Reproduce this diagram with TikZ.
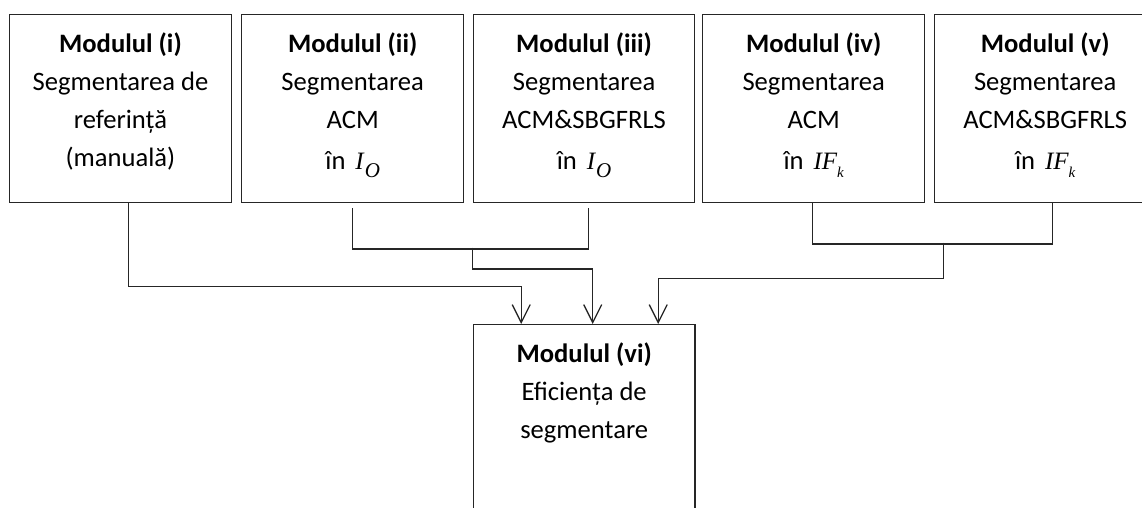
\documentclass[tikz,border=0pt]{standalone}
\usepackage{fontspec}
\setmainfont{Carlito}
\newfontfamily\tms{Liberation Serif}
\usetikzlibrary{arrows.meta}
\newcommand{\mIO}{{\tms\itshape\fontsize{25}{25}\selectfont I\hspace{1pt}\raisebox{-8pt}{\fontsize{21}{21}\selectfont O}}}
\newcommand{\mIF}{{\tms\itshape\fontsize{25}{25}\selectfont IF\raisebox{-8pt}{\fontsize{15}{15}\selectfont k}}}
\begin{document}
\begin{tikzpicture}[x=1pt,y=-1pt,
  box/.style={draw=black!85, line width=1.4pt, minimum height=188pt, inner sep=0pt, anchor=north west},
  txt/.style={align=center, inner sep=0pt, anchor=north, font=\fontsize{26.6}{38}\selectfont},
  conn/.style={draw=black!85, line width=1.4pt},
  arr/.style={conn, -{Straight Barb[length=18pt,width=18pt,line width=1.3pt]}}]
\useasboundingbox (0,0) rectangle (1142,507);
\clip (0,0) rectangle (1142,507);
\fill[white] (0,0) rectangle (1142,507);

\node[box, minimum width=221.5pt] (b1) at (9,14) {};
\node[box, minimum width=222pt] (b2) at (241,14) {};
\node[box, minimum width=221.3pt] (b3) at (472.7,14) {};
\node[box, minimum width=222pt] (b4) at (702,14) {};
\node[box, minimum width=221pt] (b5) at (934,14) {};
\node[box, minimum width=221.6pt] (b6) at (472.7,324) {};

\node[txt] (t1) at ([yshift=-18.5pt]b1.north) {\textbf{Modulul (i)}\\Segmentarea de\\referință\\(manuală)};
\node[txt] (t2) at ([yshift=-18.5pt]b2.north) {\textbf{Modulul (ii)}\\Segmentarea\\ACM\\[3.5pt]în\hspace{10pt}\mIO};
\node[txt] (t3) at ([yshift=-18.5pt]b3.north) {\textbf{Modulul (iii)}\\Segmentarea\\ACM\&SBGFRLS\\[3.5pt]în\hspace{10pt}\mIO};
\node[txt] (t4) at ([yshift=-18.5pt]b4.north) {\textbf{Modulul (iv)}\\Segmentarea\\ACM\\[3.5pt]în\hspace{10pt}\mIF};
\node[txt] (t5) at ([yshift=-18.5pt]b5.north) {\textbf{Modulul (v)}\\Segmentarea\\ACM\&SBGFRLS\\[3.5pt]în\hspace{10pt}\mIF};
\node[txt] (t6) at ([yshift=-18.8pt]b6.north) {\textbf{Modulul (vi)}\\Eficiența de\\segmentare};

\draw[arr] ([xshift=8.25pt]b1.south) -- ++(0,83) -| ([xshift=-63pt]b6.north);
\draw[conn] ([yshift=-4.7pt]b2.south) -- ++(0,41) -| ([xshift=4.2pt,yshift=-4.7pt]b3.south);
\coordinate (m23) at (472.7,247.7);
\draw[arr] (m23) -- ++(0,21.3) -| ([xshift=8.5pt]b6.north);
\draw[conn] ([xshift=-1.3pt]b4.south) -- ++(0,40.7) -| ([xshift=7pt]b5.south);
\coordinate (m45) at (943.7,242.7);
\draw[arr] (m45) -- ++(0,36) -| ([xshift=74pt]b6.north);
\end{tikzpicture}
\end{document}
